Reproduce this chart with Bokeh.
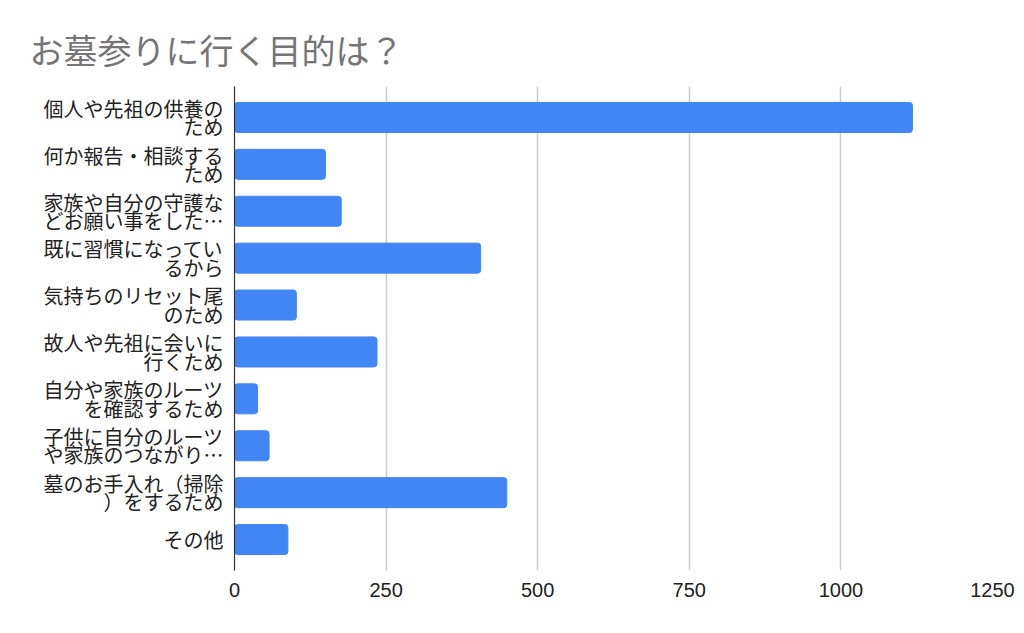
from bokeh.plotting import figure
from bokeh.models import FixedTicker, ColumnDataSource, Range1d
from bokeh.embed import file_html
from bokeh.resources import INLINE

categories = [
    "個人や先祖の供養の\nため",
    "何か報告・相談する\nため",
    "家族や自分の守護な\nどお願い事をした…",
    "既に習慣になってい\nるから",
    "気持ちのリセット尾\nのため",
    "故人や先祖に会いに\n行くため",
    "自分や家族のルーツ\nを確認するため",
    "子供に自分のルーツ\nや家族のつながり…",
    "墓のお手入れ（掃除\n）をするため",
    "その他",
]
values = [1118, 150, 176, 406, 102, 235, 38, 57, 449, 88]
x_ticks = [0, 250, 500, 750, 1000, 1250]

n = len(categories)
ypos = [n - 1 - i for i in range(n)]

src = ColumnDataSource(dict(y=ypos, v=values))

p = figure(width=1016, height=625, output_backend="svg", toolbar_location=None,
           x_range=Range1d(0, 1250), y_range=Range1d(-0.66, n - 1 + 0.66),
           min_border_left=234, min_border_right=24, min_border_top=86,
           min_border_bottom=55)
p.outline_line_color = None
p.background_fill_color = "white"
p.border_fill_color = "white"

p.hbar(y="y", right="v", left=0, height=0.64, source=src,
       fill_color="#4285F4", line_color="#4285F4", border_radius=3)

p.title.text = "お墓参りに行く目的は？"
p.title.text_font = "Noto Sans CJK JP"
p.title.text_font_size = "34px"
p.title.text_font_style = "normal"
p.title.text_color = "#757575"
p.title.align = "left"
p.title.offset = -205
p.title.standoff = 25

xa = p.xaxis[0]
xa.ticker = FixedTicker(ticks=x_ticks)
xa.axis_line_color = None
xa.major_tick_line_color = None
xa.minor_tick_line_color = None
xa.major_label_text_font = "Liberation Sans"
xa.major_label_text_font_size = "20px"
xa.major_label_text_color = "#222222"
xa.major_label_standoff = 6

# each label line becomes its own tick so the line spacing can match
half = 0.197
ticks = []
overrides = {}
for y, c in zip(ypos, categories):
    lines = c.split("\n")
    if len(lines) == 1:
        ticks.append(float(y))
        overrides[float(y)] = lines[0]
    else:
        t1 = round(y + half, 3)
        t2 = round(y - half, 3)
        ticks += [t1, t2]
        overrides[t1] = lines[0]
        overrides[t2] = lines[1]

ya = p.yaxis[0]
ya.ticker = FixedTicker(ticks=ticks)
ya.major_label_overrides = overrides
ya.axis_line_color = "#333333"
ya.axis_line_width = 1.2
ya.major_tick_line_color = None
ya.minor_tick_line_color = None
ya.major_label_text_font = "Noto Sans CJK JP"
ya.major_label_text_font_size = "20px"
ya.major_label_text_color = "#222222"
ya.major_label_standoff = 5

p.ygrid.grid_line_color = None
p.xgrid.ticker = FixedTicker(ticks=x_ticks[1:])
p.xgrid.grid_line_color = "#cccccc"
p.xgrid.grid_line_width = 1.5

open("out.html", "w").write(file_html(p, INLINE))
